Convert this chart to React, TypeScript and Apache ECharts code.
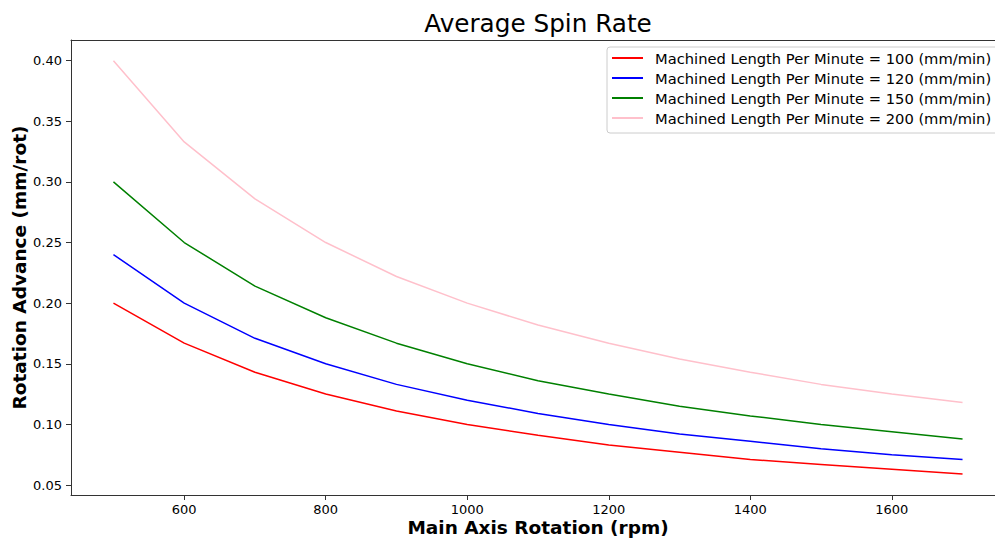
import React, { useEffect, useRef } from "react";
import * as echarts from "echarts";

const rpm = [500, 600, 700, 800, 900, 1000, 1100, 1200, 1300, 1400, 1500, 1600, 1700];
const seriesNames = [
  "Machined Length Per Minute = 100 (mm/min)",
  "Machined Length Per Minute = 120 (mm/min)",
  "Machined Length Per Minute = 150 (mm/min)",
  "Machined Length Per Minute = 200 (mm/min)",
];
const adv100 = [0.200, 0.167, 0.143, 0.125, 0.111, 0.100, 0.091, 0.083, 0.077, 0.071, 0.067, 0.063, 0.059];
const adv120 = [0.240, 0.200, 0.171, 0.150, 0.133, 0.120, 0.109, 0.100, 0.092, 0.086, 0.080, 0.075, 0.071];
const adv150 = [0.300, 0.250, 0.214, 0.188, 0.167, 0.150, 0.136, 0.125, 0.115, 0.107, 0.100, 0.094, 0.088];
const adv200 = [0.400, 0.333, 0.286, 0.250, 0.222, 0.200, 0.182, 0.167, 0.154, 0.143, 0.133, 0.125, 0.118];
const colors = ["#ff0000", "#0000ff", "#008000", "#ffc0cb"];
const xTicks = [600, 800, 1000, 1200, 1400, 1600];
const yTicks = [0.05, 0.1, 0.15, 0.2, 0.25, 0.3, 0.35, 0.4];

const FONT = "DejaVu Sans";

export default function App() {
  const ref = useRef<HTMLDivElement>(null);
  useEffect(() => {
    document.body.style.margin = "0";
    const chart = echarts.init(ref.current!, null, { renderer: "svg" });
    const all = [adv100, adv120, adv150, adv200];
    const axisLine = { show: true, lineStyle: { color: "#333", width: 1 } };
    chart.setOption({
      animation: false,
      backgroundColor: "#fff",
      textStyle: { fontFamily: FONT },
      graphic: [
        {
          type: "text",
          x: 538,
          y: 23,
          style: {
            text: "Average Spin Rate",
            fontFamily: FONT,
            fontSize: 24.7,
            fill: "#000",
            textAlign: "center",
            textVerticalAlign: "middle",
          },
        },
      ],
      grid: {
        left: 71,
        right: 95,
        top: 40,
        bottom: 43,
        containLabel: false,
        outerBoundsMode: "none",
      },
      legend: {
        orient: "vertical",
        left: 607,
        top: 47,
        icon: "rect",
        itemWidth: 31,
        itemHeight: 2,
        itemGap: 4,
        padding: [3, 8, 7, 5],
        backgroundColor: "#fff",
        borderColor: "#cccccc",
        borderWidth: 1,
        borderRadius: 3,
        textStyle: {
          fontFamily: FONT,
          fontSize: 14.7,
          color: "#000",
          lineHeight: 16,
          padding: [0, 0, 0, 7],
        },
        data: seriesNames,
      },
      xAxis: [
        {
          type: "value",
          min: 440,
          max: 1760,
          name: "Main Axis Rotation (rpm)",
          nameLocation: "middle",
          nameGap: 23,
          nameMoveOverlap: false,
          nameTextStyle: { fontFamily: FONT, fontSize: 18.5, fontWeight: "bold", color: "#000" },
          axisLine,
          splitLine: { show: false },
          axisTick: { show: true, length: 5, lineStyle: { color: "#333" }, customValues: xTicks },
          axisLabel: {
            fontFamily: FONT,
            fontSize: 13,
            color: "#000",
            margin: 8,
            customValues: xTicks,
            formatter: (v: number) => String(v),
          },
        },
        {
          type: "value",
          position: "top",
          min: 440,
          max: 1760,
          axisLine,
          splitLine: { show: false },
          axisTick: { show: false },
          axisLabel: { show: false },
        },
      ],
      yAxis: {
        type: "value",
        min: 0.04176,
        max: 0.41706,
        name: "Rotation Advance (mm/rot)",
        nameLocation: "middle",
        nameGap: 42,
        nameMoveOverlap: false,
        nameRotate: 90,
        nameTextStyle: { fontFamily: FONT, fontSize: 18.5, fontWeight: "bold", color: "#000" },
        axisLine,
        splitLine: { show: false },
        axisTick: { show: true, length: 5, lineStyle: { color: "#333" }, customValues: yTicks },
        axisLabel: {
          fontFamily: FONT,
          fontSize: 13,
          color: "#000",
          margin: 9,
          customValues: yTicks,
          formatter: (v: number) => v.toFixed(2),
        },
      },
      series: all.map((arr, i) => ({
        name: seriesNames[i],
        type: "line",
        symbol: "none",
        smooth: false,
        lineStyle: { color: colors[i], width: 1.5 },
        itemStyle: { color: colors[i] },
        data: rpm.map((x, j) => [x, arr[j]]),
      })),
    });
    return () => chart.dispose();
  }, []);
  return (
    <div style={{ width: 995, height: 538, overflow: "hidden", position: "relative" }}>
      <div ref={ref} style={{ width: 1100, height: 538 }} />
    </div>
  );
}
